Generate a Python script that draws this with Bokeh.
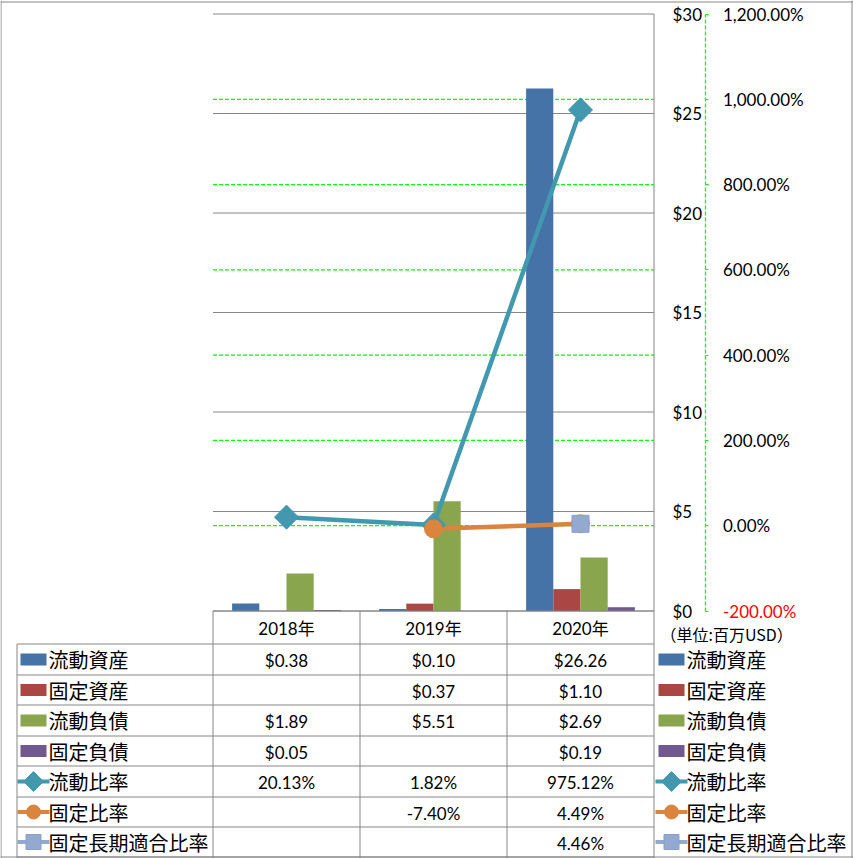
import math
from bokeh.plotting import figure
from bokeh.models import Range1d, LinearAxis, FixedTicker, NumeralTickFormatter
from bokeh.core.properties import value
from bokeh.embed import file_html
from bokeh.resources import INLINE

# ---------------- data ----------------
years = ["2018年", "2019年", "2020年"]
current_assets = [0.38, 0.10, 26.26]
fixed_assets = [None, 0.37, 1.10]
current_liabilities = [1.89, 5.51, 2.69]
fixed_liabilities = [0.05, None, 0.19]
current_ratio = [20.13, 1.82, 975.12]          # %
fixed_ratio = [None, -7.40, 4.49]               # %
fixed_long_term_ratio = [None, None, 4.46]      # %

bar_names = ["流動資産", "固定資産", "流動負債", "固定負債"]
line_names = ["流動比率", "固定比率", "固定長期適合比率"]
dollar_ticks = [0, 5, 10, 15, 20, 25, 30]
pct_ticks = [-2, 0, 2, 4, 6, 8, 10, 12]        # x100 %
unit_label = "（単位:百万USD）"

# ---------------- styles / layout ----------------
bar_colors = ["#4572A7", "#AA4643", "#89A54E", "#71588F"]
line_colors = ["#4198AF", "#DB843D", "#93A9CF"]
GRID = "#868686"
LIME = "#00FF00"
NUM_FONT = "Lato"
JP_FONT = "Noto Sans CJK JP"
MIX_FONT = "Lato, 'Noto Sans CJK JP'"

W, H = 853, 858
PL, PR = 212.5, 653.5
PT, PB = 13.5, 610.5
D0, D1 = 0, 30
P0, P1 = -2, 12

cw = (PR - PL) / 3
ppd = (PB - PT) / (D1 - D0)
ppp = (PB - PT) / (P1 - P0)

def nz(v):
    return float("nan") if v is None else v

p = figure(width=W, height=H,
           x_range=Range1d(-PL / cw - 0.5, (W - PL) / cw - 0.5),
           y_range=Range1d(D0 - (H - PB) / ppd, D1 + PT / ppd),
           x_axis_location=None, y_axis_location=None,
           toolbar_location=None, output_backend="svg",
           min_border=0, outline_line_color=None,
           background_fill_color="white", border_fill_color="white")
p.extra_y_ranges = {"pct": Range1d(P0 - (H - PB) / ppp, P1 + PT / ppp),
                    "py": Range1d(H, 0)}
p.extra_x_ranges = {"px": Range1d(0, W)}
for g in p.grid:
    g.visible = False
p.xgrid.grid_line_color = None
p.ygrid.grid_line_color = None

# ---------------- gridlines ----------------
# inner secondary gridlines (the outer ones coincide with the plot's top / bottom)
inner_pct = [t for t in pct_ticks if P0 < t < P1]
p.segment(x0=-0.5, x1=2.5, y0=inner_pct, y1=inner_pct, y_range_name="pct",
          line_color=LIME, line_width=1.3, line_dash="4 2")
p.segment(x0=-0.5, x1=2.5, y0=dollar_ticks, y1=dollar_ticks,
          line_color=GRID, line_width=1)

# ---------------- bars ----------------
bw = 0.185
bar_series = [current_assets, fixed_assets, current_liabilities, fixed_liabilities]
for k, (vals, col) in enumerate(zip(bar_series, bar_colors)):
    off = (k - 1.5) * bw
    p.vbar(x=[i + off for i in range(len(years))], top=[nz(v) for v in vals],
           bottom=0, width=bw, fill_color=col, line_color=None)

# ---------------- lines ----------------
xs = list(range(len(years)))
ratio_series = [current_ratio, fixed_ratio, fixed_long_term_ratio]

def ratio_y(vals):
    return [v / 100 if v is not None else float("nan") for v in vals]

for vals, col in zip(ratio_series, line_colors):
    p.line(x=xs, y=ratio_y(vals), y_range_name="pct", line_color=col, line_width=4.5,
           line_join="round", line_cap="round")

p.scatter(x=xs, y=ratio_y(current_ratio), y_range_name="pct", marker="square",
          angle=math.pi / 4, size=17, fill_color=line_colors[0], line_color=line_colors[0])
p.scatter(x=xs, y=ratio_y(fixed_ratio), y_range_name="pct", marker="circle",
          size=18, fill_color=line_colors[1], line_color=line_colors[1])
p.scatter(x=xs, y=ratio_y(fixed_long_term_ratio), y_range_name="pct", marker="square",
          size=17, fill_color=line_colors[2], line_color="#8AA0CA")

# ---------------- axes ----------------
ax_d = LinearAxis(x_range_name="px", fixed_location=PR - 0.5,
                  ticker=FixedTicker(ticks=dollar_ticks, minor_ticks=[]),
                  formatter=NumeralTickFormatter(format="$0"),
                  bounds=(D0, D1), axis_line_color=None,
                  major_tick_line_color=None, minor_tick_line_color=None,
                  major_tick_in=0, major_tick_out=0, major_label_standoff=19,
                  major_label_text_font=NUM_FONT, major_label_text_font_size="17px",
                  major_label_text_color="black")
p.add_layout(ax_d, "right")

ax_p = LinearAxis(x_range_name="px", y_range_name="pct", fixed_location=704.5,
                  ticker=FixedTicker(ticks=pct_ticks[1:], minor_ticks=[]),
                  formatter=NumeralTickFormatter(format="0,0.00%"),
                  bounds=(P0, P1), axis_line_color=LIME, axis_line_width=1.3,
                  axis_line_dash="4 2",
                  major_tick_line_color=LIME, minor_tick_line_color=None,
                  major_tick_in=0, major_tick_out=3, major_label_standoff=15,
                  major_label_text_font=NUM_FONT, major_label_text_font_size="17px",
                  major_label_text_color="black")
p.add_layout(ax_p, "right")

ax_r = LinearAxis(x_range_name="px", y_range_name="pct", fixed_location=704.5,
                  ticker=FixedTicker(ticks=pct_ticks[:1], minor_ticks=[]),
                  formatter=NumeralTickFormatter(format="0,0.00%"),
                  axis_line_color=None,
                  major_tick_line_color=LIME, minor_tick_line_color=None,
                  major_tick_in=0, major_tick_out=3, major_label_standoff=15,
                  major_label_text_font=NUM_FONT, major_label_text_font_size="17px",
                  major_label_text_color="red")
p.add_layout(ax_r, "right")

# ---------------- data table ----------------
row_edges = [643.5, 674.5, 704.5, 735.5, 765.5, 796.5, 826.5, 856.5]
row_mid = [(a + b) / 2 for a, b in zip(row_edges[:-1], row_edges[1:])]
col_edges = [PL + i * cw for i in range(4)]
LEFT_X = 16.5

p.segment(x0=PL, x1=PR, y0=PB, y1=PB, x_range_name="px", y_range_name="py",
          line_color=GRID)
p.segment(x0=LEFT_X, x1=PR, y0=row_edges, y1=row_edges,
          x_range_name="px", y_range_name="py", line_color=GRID)
p.segment(x0=col_edges[:3], x1=col_edges[:3], y0=PB, y1=H, x_range_name="px",
          y_range_name="py", line_color=GRID)
p.segment(x0=PR, x1=PR, y0=PT, y1=H, x_range_name="px", y_range_name="py",
          line_color=GRID)
p.segment(x0=LEFT_X, x1=LEFT_X, y0=row_edges[0], y1=H, x_range_name="px",
          y_range_name="py", line_color=GRID)
p.segment(x0=[0.5, 0, 851.5, 0], x1=[0.5, W, 851.5, W],
          y0=[0, 1.5, 0, 856.5], y1=[H, 1.5, H, 856.5],
          x_range_name="px", y_range_name="py", line_color=GRID)

p.text(x=xs, y=[(PB + row_edges[0]) / 2 + 1] * 3, text=years, y_range_name="py",
       text_align="center", text_baseline="middle", text_font=value(MIX_FONT),
       text_font_size="17px", text_color="black")

def fmt_money(v):
    return "" if v is None else "${:.2f}".format(v)

def fmt_pct(v):
    return "" if v is None else "{:.2f}%".format(v)

all_rows = [[fmt_money(v) for v in s] for s in bar_series] + \
           [[fmt_pct(v) for v in s] for s in ratio_series]
cx, cy, ct = [], [], []
for r, cells in enumerate(all_rows):
    for i, t in enumerate(cells):
        if t:
            cx.append(i)
            cy.append(row_mid[r] + 1)
            ct.append(t)
p.text(x=cx, y=cy, text=ct, y_range_name="py", text_align="center",
       text_baseline="middle", text_font=value(NUM_FONT), text_font_size="17px",
       text_color="black")

names = bar_names + line_names
for key_cx, text_x in [(33, 48), (671, 686)]:
    ys_b = [row_mid[k] for k in range(4)]
    p.rect(x=[key_cx] * 4, y=ys_b, width=26, height=12, x_range_name="px",
           y_range_name="py", fill_color=bar_colors, line_color=None)
    ys_l = [row_mid[4 + k] for k in range(3)]
    p.segment(x0=key_cx - 16, x1=key_cx + 16, y0=ys_l, y1=ys_l, x_range_name="px",
              y_range_name="py", line_color=line_colors, line_width=4)
    p.scatter(x=[key_cx], y=[ys_l[0]], marker="square", angle=math.pi / 4, size=14,
              x_range_name="px", y_range_name="py",
              fill_color=line_colors[0], line_color=line_colors[0])
    p.scatter(x=[key_cx], y=[ys_l[1]], marker="circle", size=14,
              x_range_name="px", y_range_name="py",
              fill_color=line_colors[1], line_color=line_colors[1])
    p.scatter(x=[key_cx], y=[ys_l[2]], marker="square", size=15,
              x_range_name="px", y_range_name="py",
              fill_color=line_colors[2], line_color="#8AA0CA")
    p.text(x=[text_x] * len(names), y=row_mid, text=names, x_range_name="px",
           y_range_name="py", text_align="left", text_baseline="middle",
           text_font=value(JP_FONT), text_font_size="20px", text_color="black")

p.text(x=[660], y=[633], text=[unit_label], x_range_name="px", y_range_name="py",
       text_align="left", text_baseline="middle", text_font=value(JP_FONT),
       text_font_size="16px", text_color="black")

open("out.html", "w").write(file_html(p, INLINE))
